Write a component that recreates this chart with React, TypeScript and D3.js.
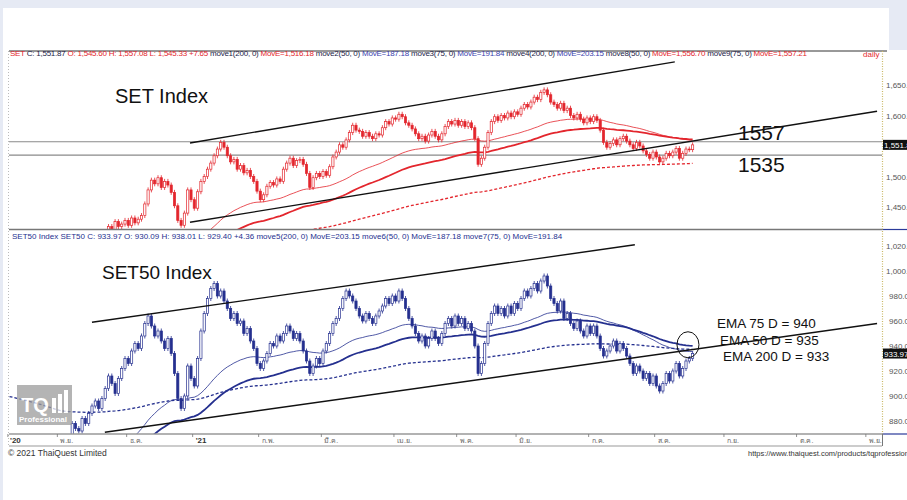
import React from "react";
import * as d3 from "d3";

// daily closes, SET index (first candle ~ 9 Oct 2020)
const setClose = [
  1268, 1262, 1252, 1246, 1238, 1241, 1232, 1226, 1231, 1216, 1220, 1211, 1205, 1199, 1194,
  1208, 1248, 1262, 1292, 1338, 1334, 1328, 1350, 1346, 1362, 1374, 1380, 1370, 1386, 1404,
  1418, 1410, 1426, 1418, 1422, 1428, 1420, 1432, 1424, 1430, 1436, 1455, 1478, 1494, 1488,
  1498, 1482, 1492, 1486, 1474, 1452, 1428, 1420, 1440, 1478, 1462, 1448, 1475, 1492, 1500,
  1512, 1522, 1534, 1545, 1556, 1548, 1534, 1524, 1528, 1512, 1518, 1506, 1510, 1500, 1492,
  1476, 1462, 1470, 1484, 1490, 1486, 1496, 1492, 1512, 1522, 1530, 1518, 1526, 1528, 1520,
  1505, 1482, 1498, 1505, 1500, 1508, 1502, 1516, 1532, 1540, 1552, 1548, 1560, 1572, 1584,
  1576, 1574, 1566, 1572, 1566, 1562, 1570, 1568, 1580, 1590, 1586, 1596, 1594, 1602, 1598,
  1588, 1584, 1578, 1570, 1562, 1566, 1558, 1568, 1574, 1566, 1560, 1570, 1582, 1590, 1586,
  1592, 1584, 1590, 1582, 1588, 1580, 1562, 1520, 1530, 1548, 1572, 1590, 1598, 1592, 1600,
  1596, 1604, 1598, 1606, 1602, 1612, 1618, 1614, 1622, 1630, 1626, 1638, 1642, 1634, 1622,
  1618, 1612, 1620, 1608, 1612, 1600, 1596, 1602, 1594, 1588, 1596, 1590, 1598, 1592, 1576,
  1556, 1548, 1554, 1560, 1552, 1562, 1566, 1558, 1552, 1546, 1556, 1550, 1542, 1536, 1530,
  1540, 1532, 1524, 1530, 1538, 1534, 1540, 1546, 1530, 1538, 1545, 1544, 1551.87,
];

// daily closes, SET50 index
const set50Close = [
  850, 846, 838, 836, 830, 834, 826, 822, 826, 816, 818, 812, 808, 804, 800,
  812, 840, 848, 862, 878, 874, 872, 882, 878, 886, 892, 896, 890, 898, 906,
  916, 910, 902, 914, 922, 930, 926, 936, 942, 938, 948, 958, 964, 956, 948,
  952, 944, 938, 946, 934, 918, 898, 890, 900, 924, 914, 908, 930, 952, 966,
  978, 986, 990, 980, 984, 976, 970, 962, 966, 958, 960, 950, 954, 944, 938,
  926, 922, 928, 934, 942, 940, 948, 944, 950, 956, 952, 946, 950, 944, 936,
  928, 918, 924, 930, 926, 936, 942, 950, 958, 962, 970, 978, 984, 980, 976,
  970, 964, 960, 966, 962, 958, 964, 968, 972, 978, 974, 980, 976, 984, 978,
  970, 962, 956, 950, 944, 948, 940, 946, 952, 946, 942, 950, 958, 962, 956,
  964, 958, 962, 954, 958, 952, 940, 918, 926, 942, 958, 966, 972, 966, 970,
  964, 972, 966, 974, 970, 978, 984, 980, 986, 990, 984, 992, 996, 988, 978,
  974, 968, 976, 962, 966, 958, 954, 960, 952, 948, 956, 950, 956, 948, 938,
  932, 936, 940, 944, 936, 942, 938, 932, 926, 918, 924, 920, 914, 918, 910,
  916, 908, 904, 910, 918, 912, 920, 926, 916, 922, 928, 930, 933.97,
];

// EMA starting values at the first candle (history before the window)
const setSeeds = { e50: 1230, e75: 1255, e200: 1370 };
const set50Seeds = { e50: 812, e75: 815, e200: 900 };

// month boundaries as trading-day index
const monthStart = [0, 15, 36, 56, 76, 95, 117, 136, 154, 176, 196, 217, 239, 260];
const monthLabel = ["'20", "พ.ย.", "ธ.ค.", "'21", "ก.พ.", "มี.ค.", "เม.ย.", "พ.ค.", "มิ.ย.", "ก.ค.", "ส.ค.", "ก.ย.", "ต.ค.", "พ.ย."];

// 1,550 sits under the last-price box
const setTicks = [1450, 1500, 1600, 1650];
const set50Ticks = [880, 900, 920, 940, 960, 980, 1000, 1020];
const setLevels = [1557, 1535];

// hand-drawn trend channels: [index, value]
const setUpper: [number, number][] = [[54.7, 1555], [201.6, 1688]];
const setLower: [number, number][] = [[54.7, 1425], [262.9, 1607]];
const set50Upper: [number, number][] = [[25, 959], [189.5, 1021]];
const set50Lower: [number, number][] = [[28.9, 871], [262.9, 958]];

const RED = "#e3262d";
const NAVY = "#25308f";
const DARK = "#1c1c48";
const BLUE = "#3b3fae";

const setHeader: [string, string][] = [
  ["SET", RED], [" C: 1,551.87", DARK], [" O: 1,545.60 H: 1,557.08 L: 1,545.33 +7.65", RED],
  [" move1(200, 0) ", DARK], ["MovE=1,516.18", RED], [" move2(50, 0) ", DARK], ["MovE=187.18", BLUE],
  [" move3(75, 0) ", DARK], ["MovE=191.84", BLUE], [" move4(200, 0) ", DARK], ["MovE=203.15", BLUE],
  [" move8(50, 0) ", DARK], ["MovE=1,556.70", RED], [" move9(75, 0) ", DARK], ["MovE=1,557.21", RED],
];
const set50Header =
  "SET50 Index SET50 C: 933.97 O: 930.09 H: 938.01 L: 929.40 +4.36 move5(200, 0) MovE=203.15 move6(50, 0) MovE=187.18 move7(75, 0) MovE=191.84";

const emaLines = [
  "EMA 75 D = 940",
  "EMA 50 D = 935",
  "EMA 200 D = 933",
];

function ema(values: number[], period: number, seed: number) {
  const k = 2 / (period + 1);
  let prev = seed;
  return values.map((v) => (prev = prev + k * (v - prev)));
}

const PL = 9;
const PR = 882;
const TOP = { y0: 51, y1: 229 };
const BOT = { y0: 230, y1: 434 };

const x = d3.scaleLinear().domain([0, 207]).range([9.5, 9.5 + 3.3 * 207]);
const ySet = d3.scaleLinear().domain([1450, 1650]).range([207, 85]);
const ySet50 = d3.scaleLinear().domain([880, 1000]).range([421, 271]);
const fmt = d3.format(",.1f");
const SANS = "'Liberation Sans', Arial, sans-serif";

function Candles({ closes, y, color }: { closes: number[]; y: d3.ScaleLinear<number, number>; color: string }) {
  return (
    <g>
      {closes.map((c, i) => {
        const o = i > 0 ? closes[i - 1] : c;
        const up = c >= o;
        const yt = y(Math.max(o, c));
        const yb = y(Math.min(o, c));
        const cx = x(i);
        return (
          <g key={i}>
            <line x1={cx} x2={cx} y1={yt - 2.5} y2={yb + 2.5} stroke={color} strokeWidth={0.8} />
            <rect x={cx - 1.1} y={yt} width={2.2} height={Math.max(0.8, yb - yt)}
              fill={up ? "#fff" : color} stroke={color} strokeWidth={0.7} />
          </g>
        );
      })}
    </g>
  );
}

function Emas({ closes, seeds, y, color }: { closes: number[]; seeds: { e50: number; e75: number; e200: number }; y: d3.ScaleLinear<number, number>; color: string }) {
  const line = d3.line<number>().x((_, i) => x(i)).y((d) => y(d));
  return (
    <g fill="none" stroke={color}>
      <path d={line(ema(closes, 200, seeds.e200)) ?? ""} strokeWidth={1.3} strokeDasharray="3 2" />
      <path d={line(ema(closes, 75, seeds.e75)) ?? ""} strokeWidth={1.8} />
      <path d={line(ema(closes, 50, seeds.e50)) ?? ""} strokeWidth={0.8} />
    </g>
  );
}

function seg(pts: [number, number][], y: d3.ScaleLinear<number, number>) {
  return { x1: x(pts[0][0]), y1: y(pts[0][1]), x2: x(pts[1][0]), y2: y(pts[1][1]) };
}

export default function App() {
  return (
    <svg width={907} height={500} style={{ position: "absolute", left: 0, top: 0, background: "#fff" }} fontFamily={SANS}>
      <defs>
        <clipPath id="clipTop"><rect x={PL} y={TOP.y0} width={PR - PL} height={TOP.y1 - TOP.y0} /></clipPath>
        <clipPath id="clipBot"><rect x={PL} y={BOT.y0} width={PR - PL} height={BOT.y1 - BOT.y0} /></clipPath>
      </defs>
      {/* page frame */}
      <rect x={0} y={0} width={907} height={8} fill="#e6eaf4" />
      <rect x={0} y={0} width={3} height={500} fill="#e6eaf4" />
      <rect x={889} y={0} width={18} height={50} fill="#e6eaf4" />

      {/* top panel */}
      <g clipPath="url(#clipTop)">
        {setLevels.map((v) => (
          <line key={v} x1={PL} x2={PR} y1={ySet(v)} y2={ySet(v)} stroke="#8a8a8a" strokeWidth={1.1} />
        ))}
        <Emas closes={setClose} seeds={setSeeds} y={ySet} color={RED} />
        <Candles closes={setClose} y={ySet} color={RED} />
        <line {...seg(setUpper, ySet)} stroke="#111" strokeWidth={1.4} />
        <line {...seg(setLower, ySet)} stroke="#111" strokeWidth={1.4} />
      </g>

      {/* bottom panel */}
      <g clipPath="url(#clipBot)">
        <Emas closes={set50Close} seeds={set50Seeds} y={ySet50} color={NAVY} />
        <Candles closes={set50Close} y={ySet50} color={NAVY} />
        <line {...seg(set50Upper, ySet50)} stroke="#111" strokeWidth={1.4} />
        <line {...seg(set50Lower, ySet50)} stroke="#111" strokeWidth={1.4} />
        <ellipse cx={x(205.6)} cy={ySet50(941)} rx={11} ry={13} fill="none" stroke="#111" strokeWidth={1} />
        {/* watermark */}
        <g opacity={0.75}>
          <rect x={17} y={385} width={55} height={40} fill="#9c9c9c" />
          <text x={21} y={412} fontSize={20} fontWeight="bold" fill="#fff">TQ</text>
          {[0, 1, 2].map((k) => (
            <rect key={k} x={52 + k * 6} y={398 - k * 4} width={4} height={15 + k * 4} fill="#fff" />
          ))}
          <text x={19} y={422} fontSize={8} fontWeight="bold" fill="#fff">Professional</text>
        </g>
      </g>

      {/* frames */}
      <line x1={PL} x2={887} y1={TOP.y0} y2={TOP.y0} stroke="#333" strokeWidth={1} />
      <line x1={PL} x2={PR} y1={229.5} y2={229.5} stroke="#777" strokeWidth={1.5} />
      <line x1={PR} x2={907} y1={229.5} y2={229.5} stroke="#2a3a9a" strokeWidth={1.2} />
      <line x1={PL} x2={PR} y1={BOT.y1} y2={BOT.y1} stroke="#999" strokeWidth={1.5} />
      <line x1={PR} x2={907} y1={BOT.y1} y2={BOT.y1} stroke="#2a3a9a" strokeWidth={1.2} />
      <line x1={PL} x2={PR} y1={446} y2={446} stroke="#999" strokeWidth={1.2} />
      <line x1={PL - 0.5} x2={PL - 0.5} y1={TOP.y0} y2={446} stroke="#bbb" strokeWidth={1} strokeDasharray="1 2" />
      <line x1={PR + 0.5} x2={PR + 0.5} y1={TOP.y0} y2={BOT.y1} stroke="#c9b865" strokeWidth={1.2} strokeDasharray="1 1.5" />
      <line x1={PR + 0.5} x2={PR + 0.5} y1={BOT.y1} y2={446} stroke="#777" strokeWidth={1} />

      {/* headers */}
      <text x={10} y={56} fontSize={8} textLength={797} lengthAdjust="spacing" style={{ whiteSpace: "pre" }}>
        {setHeader.map(([t, c], k) => (
          <tspan key={k} fill={c}>{t}</tspan>
        ))}
      </text>
      <text x={863} y={57} fontSize={8} fill={RED}>daily</text>
      <text x={12} y={239} fontSize={8} fill={NAVY} style={{ whiteSpace: "pre" }}>{set50Header}</text>

      {/* annotations */}
      <text x={115} y={103} fontSize={20} fill="#111">SET Index</text>
      <text x={102} y={279} fontSize={19} fill="#111">SET50 Index</text>
      <text x={738} y={140} fontSize={21} fill="#111">1557</text>
      <text x={738} y={172} fontSize={21} fill="#111">1535</text>
      {emaLines.map((t, k) => (
        <text key={t} x={717 + k * 3} y={328 + k * 16.5} fontSize={13.5} fill="#111">{t}</text>
      ))}

      {/* right axes */}
      {setTicks.map((v) => (
        <text key={v} x={886} y={ySet(v) + 3} fontSize={8} fill="#555">{fmt(v)}</text>
      ))}
      {set50Ticks.map((v) => (
        <text key={v} x={v >= 1000 ? 886 : 889} y={ySet50(v) + 3} fontSize={8} fill="#555">{fmt(v)}</text>
      ))}
      <rect x={883} y={ySet(1551.87) - 5} width={24} height={10} fill="#111" />
      <text x={884} y={ySet(1551.87) + 3} fontSize={8} fill="#fff">1,551.87</text>
      <rect x={883} y={ySet50(933.97) - 5} width={24} height={10} fill="#111" />
      <text x={884} y={ySet50(933.97) + 3} fontSize={8} fill="#fff">933.97</text>

      {/* x axis */}
      {monthStart.map((m, k) => {
        const tx = x(m - 0.5);
        const yr = monthLabel[k].startsWith("'");
        return (
          <g key={k}>
            <line x1={tx} x2={tx} y1={BOT.y1} y2={BOT.y1 + 3} stroke="#777" strokeWidth={0.8} />
            <text x={k === 0 ? 10 : tx + 3} y={443} fontSize={yr ? 8 : 7} fontWeight={yr ? "bold" : "normal"}
              fill={yr ? "#333" : "#666"}>{monthLabel[k]}</text>
          </g>
        );
      })}

      {/* footer */}
      <text x={8} y={456} fontSize={8.5} fill="#333">© 2021 ThaiQuest Limited</text>
      <text x={748} y={456} fontSize={7.5} fill="#333">https://www.thaiquest.com/products/tqprofessional</text>
    </svg>
  );
}
